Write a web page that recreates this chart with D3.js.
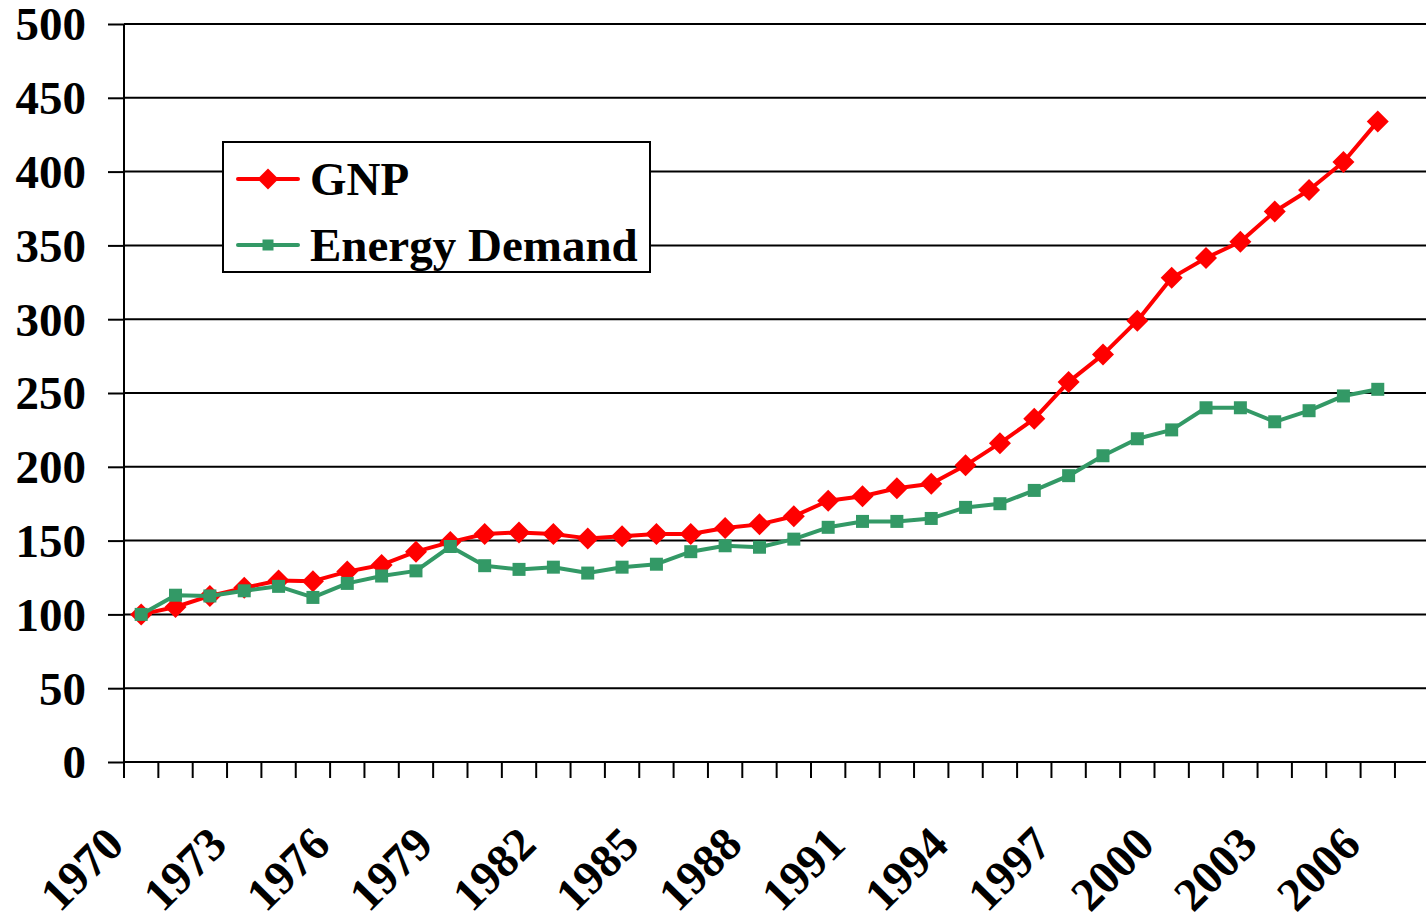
<!DOCTYPE html>
<html>
<head>
<meta charset="utf-8">
<script src="https://cdn.jsdelivr.net/npm/d3@7"></script>
<style>
  html, body { margin: 0; padding: 0; background: #fff; }
  svg { display: block; }
  text { font-family: "Liberation Serif", "Times New Roman", serif; font-weight: bold; fill: #000; }
</style>
</head>
<body>
<div id="chart"></div>
<script>
// categories: 1970..2007 (2007 slot has no data)
const years = d3.range(1970, 2008);
const yearLabels = years.filter((y) => (y - 1970) % 3 === 0);
const yTicks = [0, 50, 100, 150, 200, 250, 300, 350, 400, 450, 500];

// index values, 1970 = 100
const gnp = [100, 105, 112.5, 118, 123, 122.5, 129, 133.5, 142.5, 149,
    154.5, 155.5, 154.5, 151.5, 153, 154.5, 154.5, 158.5, 161, 166.5,
    177, 180, 185.5, 188.5, 201, 216, 232.5, 257.5, 276, 299,
    328, 341.5, 352.5, 373, 387.5, 406.5, 434];
const energy = [100, 113, 112.5, 116, 119, 111.5, 121, 126, 129.5, 146,
    133, 130.5, 132, 128, 132, 134, 142.5, 146.5, 145.5, 151,
    159, 163, 163, 165, 172.5, 175, 184, 194, 207.5, 219,
    225, 240, 240, 230.5, 238, 248, 252.5];

const series = [
    { name: "GNP", values: gnp, color: "#ff0000", marker: "diamond" },
    { name: "Energy Demand", values: energy, color: "#339966", marker: "square" },
];

const width = 1426;
const height = 918;
const margin = { top: 24, left: 124, bottom: 156 };
const plotRight = margin.left + 38 * 34.35;

const svg = d3
    .select("#chart")
    .append("svg")
    .attr("width", width)
    .attr("height", height);

const x = d3.scaleBand().domain(years).range([margin.left, plotRight]);
const y = d3.scaleLinear().domain([0, 500]).range([height - margin.bottom, margin.top]);

// gridlines + y axis ticks
const yAxis = svg
    .append("g")
    .attr("transform", `translate(${margin.left},0)`)
    .call(d3.axisLeft(y).tickValues(yTicks).tickSize(16).tickPadding(22));
yAxis.select(".domain").remove();
yAxis.selectAll("line").attr("stroke", "#000").attr("stroke-width", 2);
yAxis.selectAll("text").style("font-size", "47px").attr("dy", "0.34em");

svg.append("g")
    .selectAll("line")
    .data(yTicks)
    .join("line")
    .attr("x1", margin.left)
    .attr("x2", width)
    .attr("y1", (d) => y(d))
    .attr("y2", (d) => y(d))
    .attr("stroke", "#000")
    .attr("stroke-width", 2);

// x axis: ticks between categories
const xBase = y(0);
const tickPos = d3.range(0, 39).map((i) => margin.left + i * x.step());
svg.append("g")
    .selectAll("line")
    .data(tickPos)
    .join("line")
    .attr("x1", (d) => d)
    .attr("x2", (d) => d)
    .attr("y1", xBase)
    .attr("y2", xBase + 16)
    .attr("stroke", "#000")
    .attr("stroke-width", 2);

svg.append("line")
    .attr("x1", margin.left)
    .attr("x2", margin.left)
    .attr("y1", y(500))
    .attr("y2", xBase + 16)
    .attr("stroke", "#000")
    .attr("stroke-width", 2);

svg.append("g")
    .selectAll("text")
    .data(yearLabels)
    .join("text")
    .attr("text-anchor", "end")
    .attr("transform", (d) => `translate(${x(d) + x.bandwidth() / 2 - 15},${xBase + 85}) rotate(-45)`)
    .style("font-size", "47px")
    .text((d) => d);

// lines and markers
const line = d3
    .line()
    .x((d, i) => x(years[i]) + x.bandwidth() / 2)
    .y((d) => y(d));

const diamond = (s) => `M0,${-s}L${s},0L0,${s}L${-s},0Z`;
const square = (s) => `M${-s},${-s}H${s}V${s}H${-s}Z`;

for (const s of series) {
    const g = svg.append("g");
    g.append("path")
        .datum(s.values)
        .attr("fill", "none")
        .attr("stroke", s.color)
        .attr("stroke-width", 4)
        .attr("stroke-linejoin", "round")
        .attr("d", line);
    g.selectAll("path.mark")
        .data(s.values)
        .join("path")
        .attr("class", "mark")
        .attr("fill", s.color)
        .attr("transform", (d, i) => `translate(${x(years[i]) + x.bandwidth() / 2},${y(d)})`)
        .attr("d", s.marker === "diamond" ? diamond(11) : square(6.5));
}

// legend
const legend = svg.append("g").attr("transform", "translate(223,142)");
legend.append("rect")
    .attr("width", 427)
    .attr("height", 130)
    .attr("fill", "#fff")
    .attr("stroke", "#000")
    .attr("stroke-width", 2);

series.forEach((s, i) => {
    const row = legend.append("g").attr("transform", `translate(0,${37 + i * 66})`);
    row.append("line")
        .attr("x1", 15)
        .attr("x2", 75)
        .attr("stroke", s.color)
        .attr("stroke-width", 4)
        .attr("stroke-linecap", "round");
    row.append("path")
        .attr("transform", "translate(45,0)")
        .attr("fill", s.color)
        .attr("d", s.marker === "diamond" ? diamond(10.5) : square(5.5));
    row.append("text")
        .attr("x", 87)
        .attr("dy", "0.34em")
        .style("font-size", "47px")
        .text(s.name);
});
</script>
</body>
</html>
